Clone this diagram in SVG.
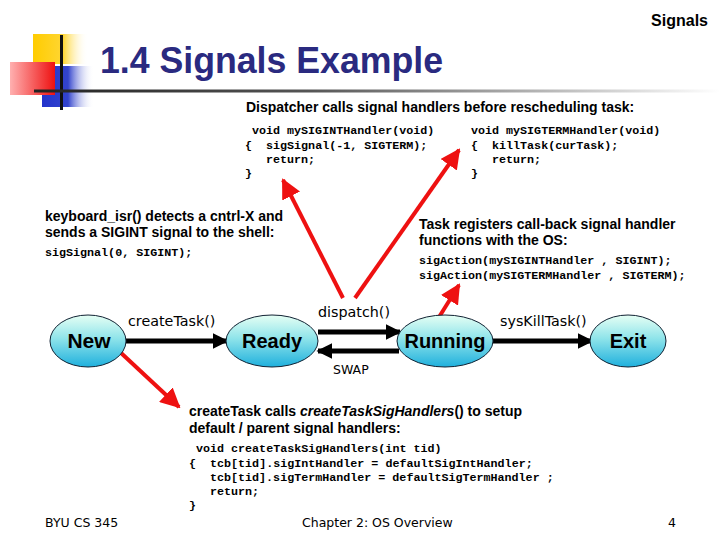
<svg xmlns="http://www.w3.org/2000/svg" width="720" height="540" viewBox="0 0 720 540">
<defs>
<linearGradient id="gY" x1="0" y1="0" x2="1" y2="0"><stop offset="0" stop-color="#ffcc00"/><stop offset="0.55" stop-color="#ffd633"/><stop offset="1" stop-color="#ffffff" stop-opacity="0"/></linearGradient>
<linearGradient id="gR" x1="0" y1="0" x2="1" y2="0"><stop offset="0" stop-color="#ffb0b0"/><stop offset="1" stop-color="#ee1111"/></linearGradient>
<linearGradient id="gB" x1="0" y1="0" x2="1" y2="0"><stop offset="0" stop-color="#2233cc"/><stop offset="0.5" stop-color="#3344cc"/><stop offset="1" stop-color="#ffffff" stop-opacity="0"/></linearGradient>
<linearGradient id="gL" x1="0" y1="0" x2="1" y2="0"><stop offset="0" stop-color="#222222"/><stop offset="0.4" stop-color="#555555"/><stop offset="1" stop-color="#ffffff"/></linearGradient>
<linearGradient id="gE" x1="0" y1="0" x2="0" y2="1"><stop offset="0" stop-color="#e6fff4"/><stop offset="0.45" stop-color="#8fe4ea"/><stop offset="1" stop-color="#1fb0dd"/></linearGradient>
<marker id="ah" viewBox="0 0 10 10" refX="9" refY="5" markerWidth="3.2" markerHeight="3.2" orient="auto" markerUnits="strokeWidth"><path d="M0,0 L10,5 L0,10 z" fill="#000"/></marker>
<marker id="rh" viewBox="0 0 10 10" refX="9" refY="5" markerWidth="5" markerHeight="5" orient="auto" markerUnits="strokeWidth"><path d="M0,0 L10,5 L0,10 z" fill="#ee1111"/></marker>
<style>
.t{font-family:"Liberation Sans",Arial,sans-serif;font-weight:bold;font-size:14px;fill:#000}
.c{font-family:"Liberation Mono","Courier New",monospace;font-weight:bold;font-size:11.7px;fill:#000;white-space:pre}
.l{font-family:"DejaVu Sans",Tahoma,sans-serif;font-size:14.3px;fill:#000}
.f{font-family:"DejaVu Sans",Tahoma,sans-serif;font-size:12.5px;fill:#000}
.n{font-family:"Liberation Sans",Arial,sans-serif;font-weight:bold;font-size:20px;fill:#000;text-anchor:middle}
.st{fill:url(#gE);stroke:#123;stroke-width:1}
.ba{stroke:#000;stroke-width:5;fill:none;marker-end:url(#ah)}
.ra{stroke:#ee1111;stroke-width:4;fill:none;marker-end:url(#rh)}
</style>
</defs>
<g id="logo">
<rect x="33" y="34" width="55" height="30" fill="url(#gY)"/>
<rect x="42" y="66" width="52" height="41" fill="url(#gB)"/>
<rect x="10" y="62" width="45" height="33" fill="url(#gR)"/>
<rect x="60" y="35" width="3" height="75" fill="#111"/>
<rect x="34" y="89.5" width="686" height="3" fill="url(#gL)"/>
</g>
<text x="708" y="26" text-anchor="end" class="t" style="font-size:16px">Signals</text>
<text x="100" y="73" textLength="343" lengthAdjust="spacingAndGlyphs" style="font-family:'Liberation Sans',Arial,sans-serif;font-weight:bold;font-size:36px;fill:#2a2a80">1.4 Signals Example</text>
<g id="top-text">
<text x="246" y="112" class="t">Dispatcher calls signal handlers before rescheduling task:</text>
<text class="c"><tspan x="252" y="134">void mySIGINTHandler(void)</tspan><tspan x="245" y="149">{  sigSignal(-1, SIGTERM);</tspan><tspan x="266" y="163">return;</tspan><tspan x="245" y="177">}</tspan></text>
<text class="c"><tspan x="471" y="134">void mySIGTERMHandler(void)</tspan><tspan x="471" y="149">{  killTask(curTask);</tspan><tspan x="492" y="163">return;</tspan><tspan x="471" y="177">}</tspan></text>
</g>
<g id="left-text">
<text x="45" y="221" class="t">keyboard_isr() detects a cntrl-X and</text>
<text x="45" y="237" class="t">sends a SIGINT signal to the shell:</text>
<text x="45" y="256" class="c">sigSignal(0, SIGINT);</text>
</g>
<g id="right-text">
<text x="419" y="229" class="t">Task registers call-back signal handler</text>
<text x="419" y="245" class="t">functions with the OS:</text>
<text x="419" y="264" class="c">sigAction(mySIGINTHandler , SIGINT);</text>
<text x="419" y="279" class="c">sigAction(mySIGTERMHandler , SIGTERM);</text>
</g>
<g id="bottom-text">
<text x="189" y="416" class="t">createTask calls <tspan font-style="italic">createTaskSigHandlers</tspan>() to setup</text>
<text x="189" y="433" class="t">default / parent signal handlers:</text>
<text class="c"><tspan x="196" y="452">void createTaskSigHandlers(int tid)</tspan><tspan x="189" y="467">{  tcb[tid].sigIntHandler = defaultSigIntHandler;</tspan><tspan x="210" y="481">tcb[tid].sigTermHandler = defaultSigTermHandler ;</tspan><tspan x="210" y="495">return;</tspan><tspan x="189" y="509">}</tspan></text>
</g>
<g id="connectors">
<line x1="126" y1="341" x2="227" y2="341" class="ba"/>
<line x1="318" y1="332" x2="400" y2="332" class="ba"/>
<line x1="399" y1="351" x2="318" y2="351" class="ba"/>
<line x1="493" y1="341" x2="592" y2="341" class="ba"/>
<text x="128" y="326" class="l">createTask()</text>
<text x="318" y="317" class="l">dispatch()</text>
<text x="500" y="326" class="l">sysKillTask()</text>
<text x="333" y="374" class="f">SWAP</text>
<line x1="343" y1="298" x2="283" y2="180" class="ra"/>
<line x1="355" y1="298" x2="459" y2="150" class="ra"/>
<line x1="436" y1="322" x2="459" y2="285" class="ra"/>
<line x1="120" y1="352" x2="179" y2="407" class="ra"/>
</g>
<g id="New"><ellipse cx="88" cy="341" rx="38" ry="26" class="st"/><text x="89" y="348" class="n" style="font-size:21px">New</text></g>
<g id="Ready"><ellipse cx="272" cy="341" rx="46" ry="26" class="st"/><text x="272" y="348" class="n">Ready</text></g>
<g id="Running"><ellipse cx="445" cy="341" rx="48" ry="26" class="st"/><text x="445" y="348" class="n">Running</text></g>
<g id="Exit"><ellipse cx="628" cy="341" rx="38" ry="26" class="st"/><text x="628" y="348" class="n">Exit</text></g>
<g id="footer">
<text x="45" y="527" class="f">BYU CS 345</text>
<text x="302" y="527" class="f">Chapter 2: OS Overview</text>
<text x="668" y="527" class="f">4</text>
</g>
</svg>
